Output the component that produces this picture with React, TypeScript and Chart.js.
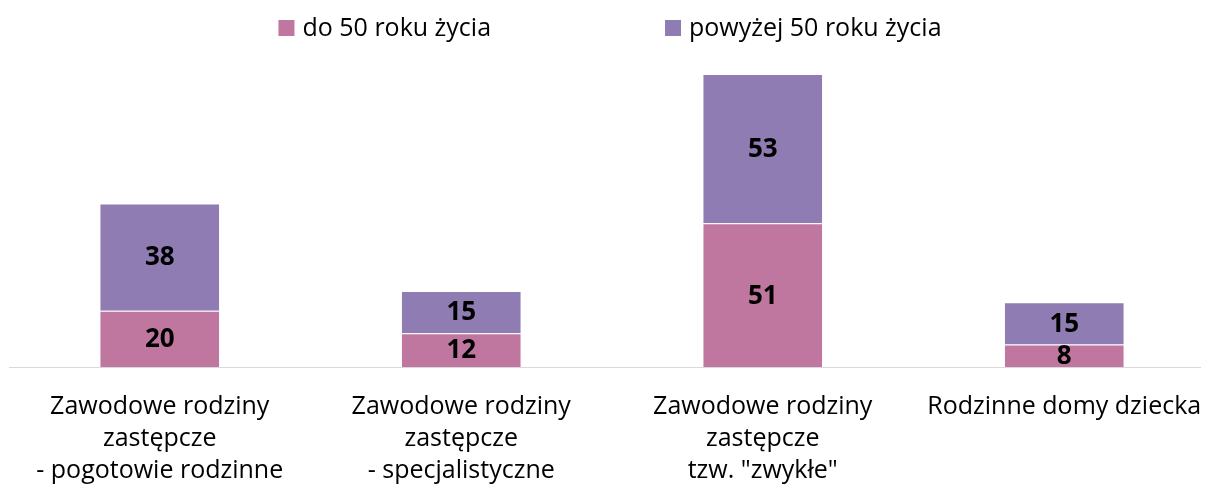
import React, { useEffect, useRef } from 'react';
import { Chart, registerables } from 'chart.js';

Chart.register(...registerables);

const categories: string[][] = [
  ['Zawodowe rodziny', 'zastępcze', '- pogotowie rodzinne'],
  ['Zawodowe rodziny', 'zastępcze', '- specjalistyczne'],
  ['Zawodowe rodziny', 'zastępcze', 'tzw. "zwykłe"'],
  ['Rodzinne domy dziecka'],
];
const seriesNames = ['do 50 roku życia', 'powyżej 50 roku życia'];
const under50 = [20, 12, 51, 8];
const over50 = [38, 15, 53, 15];
const seriesColors = ['#C0779F', '#8E7CB3'];

const FONT = '"Open Sans"';

const legendPlugin = {
  id: 'customLegend',
  afterDraw(chart: any) {
    const ctx = chart.ctx as CanvasRenderingContext2D;
    ctx.save();
    ctx.font = `25px ${FONT}`;
    const box = 16;
    const gapBT = 8;
    const gapItems = 174;
    const ds = chart.data.datasets;
    const widths = ds.map((d: any) => ctx.measureText(d.label).width);
    const total = widths.reduce((s: number, w: number) => s + box + gapBT + w, 0) + gapItems * (ds.length - 1);
    let x = chart.width / 2 - 2 - total / 2;
    const yc = 20;
    ds.forEach((d: any, i: number) => {
      ctx.fillStyle = d.backgroundColor;
      ctx.fillRect(x, yc - box / 2, box, box);
      x += box + gapBT;
      ctx.fillStyle = '#000';
      ctx.textAlign = 'left';
      ctx.textBaseline = 'middle';
      ctx.fillText(d.label, x, yc + 1);
      x += widths[i] + gapItems;
    });
    ctx.restore();
  },
};

const valueLabelPlugin = {
  id: 'valueLabels',
  afterDatasetsDraw(chart: any) {
    const ctx = chart.ctx as CanvasRenderingContext2D;
    ctx.save();
    ctx.font = `bold 26px ${FONT}`;
    ctx.fillStyle = '#000';
    ctx.textAlign = 'center';
    ctx.textBaseline = 'middle';
    chart.data.datasets.forEach((d: any, di: number) => {
      const meta = chart.getDatasetMeta(di);
      meta.data.forEach((el: any, i: number) => {
        const v = d.data[i];
        const y = (el.y + el.base) / 2;
        ctx.fillText(String(v), el.x, y + 1);
      });
    });
    ctx.restore();
  },
};

export default function App() {
  const ref = useRef<HTMLCanvasElement | null>(null);
  useEffect(() => {
    document.documentElement.style.overflow = 'hidden';
    document.body.style.overflow = 'hidden';
    if (!ref.current) return;
    const chart = new Chart(ref.current, {
      type: 'bar',
      data: {
        labels: categories as any,
        datasets: [
          {
            label: seriesNames[0],
            data: under50,
            backgroundColor: seriesColors[0],
            borderColor: 'rgba(255,255,255,0.3)',
            borderWidth: 1,
            barPercentage: 0.4,
            categoryPercentage: 1,
          },
          {
            label: seriesNames[1],
            data: over50,
            backgroundColor: seriesColors[1],
            borderColor: 'rgba(255,255,255,0.3)',
            borderWidth: 1,
            barPercentage: 0.4,
            categoryPercentage: 1,
          },
        ],
      },
      options: {
        animation: false,
        responsive: false,
        layout: { padding: { top: 49, left: 1, right: 1, bottom: 0 } },
        plugins: {
          legend: { display: false },
          tooltip: { enabled: false },
        },
        scales: {
          x: {
            stacked: true,
            grid: { display: false, drawTicks: false },
            border: { color: '#d9d9d9', width: 1 },
            ticks: {
              font: { family: FONT, size: 25, lineHeight: 32 / 25 },
              color: '#000',
              padding: 24,
              maxRotation: 0,
              autoSkip: false,
            },
            afterFit: (s: any) => {
              s.height = 122;
              s.paddingLeft = 0;
              s.paddingRight = 0;
            },
          },
          y: { stacked: true, display: false, min: 0, max: 110 },
        },
      },
      plugins: [legendPlugin, valueLabelPlugin],
    });
    return () => chart.destroy();
  }, []);
  return (
    <div style={{ width: 1201, height: 481, overflow: 'hidden' }}>
      <canvas ref={ref} width={1208} height={481} style={{ display: 'block' }} />
    </div>
  );
}
